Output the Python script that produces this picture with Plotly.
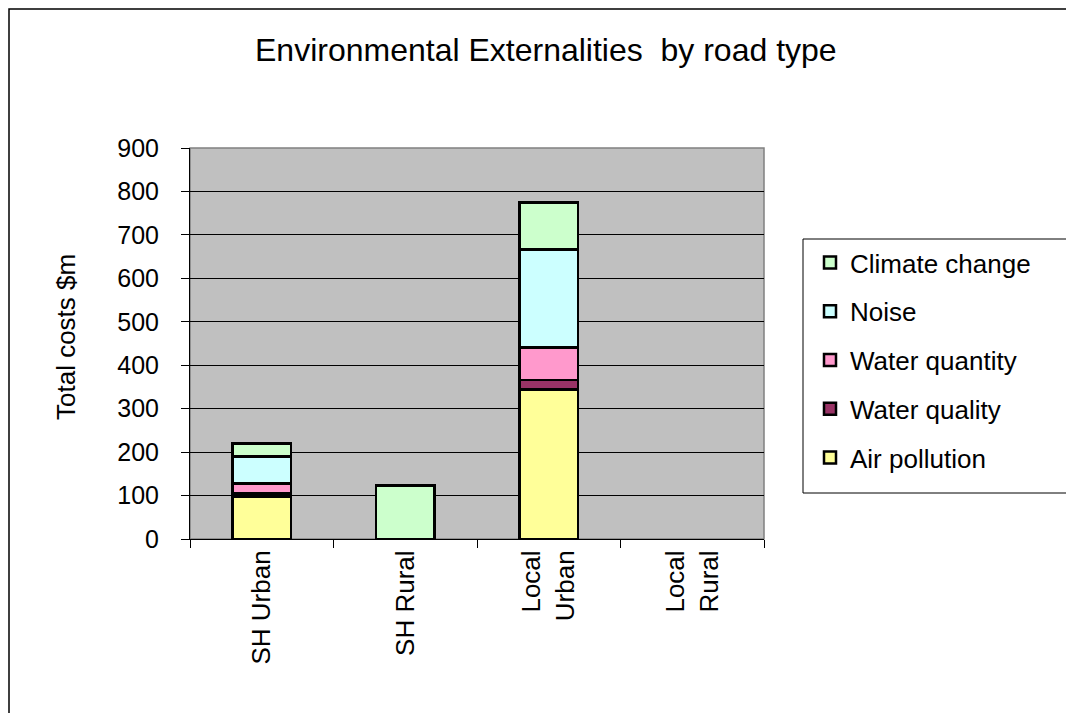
import plotly.graph_objects as go

categories = ["SH Urban", "SH Rural", "Local<br>Urban", "Local<br>Rural"]
air_pollution = [98, None, 344, None]
water_quality = [7, None, 22, None]
water_quantity = [23, None, 75, None]
noise = [62, None, 225, None]
climate_change = [30, 123, 108, None]

series = [
    ("Air pollution", air_pollution, "#FFFF99"),
    ("Water quality", water_quality, "#993366"),
    ("Water quantity", water_quantity, "#FF99CC"),
    ("Noise", noise, "#CCFFFF"),
    ("Climate change", climate_change, "#CCFFCC"),
]

FONT = "Liberation Sans, Arial, sans-serif"

W, H = 1074, 713
OFF = 8  # page offset of the figure in the screenshot
# plot area in screenshot pixels
L, R, T, B = 190, 764, 148, 539


def px(x):
    return (x - L) / (R - L)


def py(y):
    return (B - y) / (B - T)


fig = go.Figure()
n = len(series)
for i, (name, vals, col) in enumerate(series):
    fig.add_trace(go.Bar(
        x=categories, y=vals, name=name, legendgroup=name,
        legendrank=n - i,
        marker=dict(color=col, line=dict(color="black", width=2.5)),
        width=0.41,
    ))

fig.update_layout(
    width=W, height=H,
    barmode="stack",
    paper_bgcolor="white",
    plot_bgcolor="#C0C0C0",
    margin=dict(l=L - OFF, r=W - (R - OFF), t=T - OFF, b=H - (B - OFF), pad=0),
    font=dict(family=FONT, color="black", size=25),
    showlegend=True,
    legend=dict(
        x=px(810), y=py(239), xanchor="left", yanchor="top",
        bgcolor="rgba(0,0,0,0)", borderwidth=0,
        traceorder="grouped", tracegroupgap=12,
        font=dict(family=FONT, size=26, color="black"),
    ),
    xaxis=dict(
        type="category", tickangle=-90, tickson="boundaries",
        ticks="outside", ticklen=8, tickcolor="black", tickwidth=1,
        showline=True, linecolor="black", linewidth=1,
        showgrid=False, tickfont=dict(size=26),
    ),
    yaxis=dict(
        range=[0, 900], dtick=100, ticks="outside", ticklen=8,
        tickcolor="black", tickwidth=1, ticklabelstandoff=17,
        showline=True, linecolor="black", linewidth=1,
        showgrid=True, gridcolor="black", gridwidth=1,
        zeroline=False, tickfont=dict(size=25),
    ),
    shapes=[
        # outer chart border
        dict(type="rect", xref="paper", yref="paper",
             x0=px(OFF + 1), x1=px(1090), y0=py(730), y1=py(OFF + 1),
             line=dict(color="black", width=1.5), fillcolor="rgba(0,0,0,0)",
             layer="below"),
        # plot area border (grey top/right)
        dict(type="rect", xref="paper", yref="paper",
             x0=0, x1=1, y0=0, y1=1,
             line=dict(color="#808080", width=1.5), fillcolor="rgba(0,0,0,0)",
             layer="below"),
        # legend box
        dict(type="rect", xref="paper", yref="paper",
             x0=px(803), x1=px(1073), y0=py(493), y1=py(239),
             line=dict(color="black", width=1), fillcolor="white",
             layer="below"),
    ],
    annotations=[
        dict(text="Environmental Externalities  by road type", xref="paper", yref="paper",
             x=px(546), y=py(50), xanchor="center", yanchor="middle",
             showarrow=False, font=dict(size=32, family=FONT, color="black")),
        dict(text="Total costs $m", xref="paper", yref="paper",
             x=px(66), y=py(337), xanchor="center", yanchor="middle",
             textangle=-90, showarrow=False,
             font=dict(size=26, family=FONT, color="black")),
    ],
)

fig.write_html("out.html")
